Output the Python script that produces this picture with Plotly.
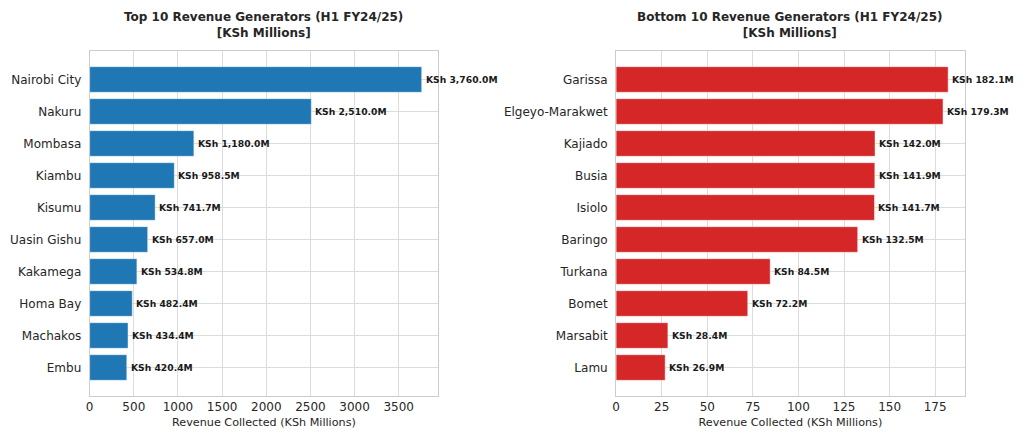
import plotly.graph_objects as go

W, H = 1024, 439

top_counties = ["Nairobi City", "Nakuru", "Mombasa", "Kiambu", "Kisumu",
                "Uasin Gishu", "Kakamega", "Homa Bay", "Machakos", "Embu"]
top_revenue = [3760.0, 2510.0, 1180.0, 958.5, 741.7, 657.0, 534.8, 482.4, 434.4, 420.4]

bottom_counties = ["Garissa", "Elgeyo-Marakwet", "Kajiado", "Busia", "Isiolo",
                   "Baringo", "Turkana", "Bomet", "Marsabit", "Lamu"]
bottom_revenue = [182.1, 179.3, 142.0, 141.9, 141.7, 132.5, 84.5, 72.2, 28.4, 26.9]

titles = ["Top 10 Revenue Generators (H1 FY24/25)<br>[KSh Millions]",
          "Bottom 10 Revenue Generators (H1 FY24/25)<br>[KSh Millions]"]
x_title = "Revenue Collected (KSh Millions)"

TEXT = "#262626"
GRID = "#dcdcdc"
FONT = "DejaVu Sans"


def px(x):
    return x / W


def py(y):
    return 1 - y / H


panels = [
    dict(names=top_counties, vals=top_revenue, color="#1f77b4", dtick=500,
         dom=(86, 436), xa="x", ya="y"),
    dict(names=bottom_counties, vals=bottom_revenue, color="#d62728", dtick=25,
         dom=(614.5, 964.5), xa="x2", ya="y2"),
]

fig = go.Figure()
annotations = []

for i, p in enumerate(panels):
    vmax = max(p["vals"])
    fig.add_trace(go.Bar(
        x=p["vals"], y=p["names"], orientation="h",
        marker=dict(color=p["color"], line=dict(color="rgba(255,255,255,0.45)", width=1)),
        width=0.8, xaxis=p["xa"], yaxis=p["ya"], showlegend=False,
    ))
    # value labels just past the end of each bar
    for name, v in zip(p["names"], p["vals"]):
        annotations.append(dict(
            x=v + 0.006 * vmax, y=name, xref=p["xa"], yref=p["ya"],
            text=f"KSh {v:,.1f}M", showarrow=False, xanchor="left", yanchor="middle",
            font=dict(family=FONT, size=9.2, color="#1a1a1a", weight="bold"),
        ))
    # subplot title
    cx = (p["dom"][0] + p["dom"][1]) / 2
    annotations.append(dict(
        x=px(cx), y=py(25), xref="paper", yref="paper", text=titles[i],
        showarrow=False, xanchor="center", yanchor="middle",
        font=dict(family=FONT, size=12, color=TEXT, weight="bold"),
    ))
    n = len(p["names"])
    pad = 0.05 * (n - 1 + 0.8)
    key = "" if i == 0 else "2"
    fig.update_layout(**{
        "xaxis" + key: dict(
            domain=[px(p["dom"][0]), px(p["dom"][1])], anchor=p["ya"],
            range=[0, vmax * 1.05], dtick=p["dtick"], tick0=0,
            showgrid=True, gridcolor=GRID, gridwidth=1, zeroline=False,
            showline=True, linecolor="#cccccc", linewidth=1, mirror=True,
            ticks="", tickfont=dict(family=FONT, size=12, color=TEXT),
            title=dict(text=x_title, font=dict(family=FONT, size=11.2, color=TEXT), standoff=4),
        ),
        "yaxis" + key: dict(
            domain=[py(396), py(51)], anchor=p["xa"],
            type="category", categoryorder="array", categoryarray=p["names"],
            range=[n - 1 + 0.4 + pad, -0.4 - pad],
            showgrid=True, gridcolor=GRID, gridwidth=1, zeroline=False,
            showline=True, linecolor="#cccccc", linewidth=1, mirror=True,
            ticks="", ticklabelstandoff=5,
            tickfont=dict(family=FONT, size=12, color=TEXT),
        ),
    })

fig.update_layout(
    width=W, height=H,
    margin=dict(l=0, r=0, t=0, b=0),
    paper_bgcolor="white", plot_bgcolor="white",
    annotations=annotations,
    bargap=0.2,
)

fig.write_html("out.html", config={"displayModeBar": False},
               post_script="document.body.style.margin='0';")
